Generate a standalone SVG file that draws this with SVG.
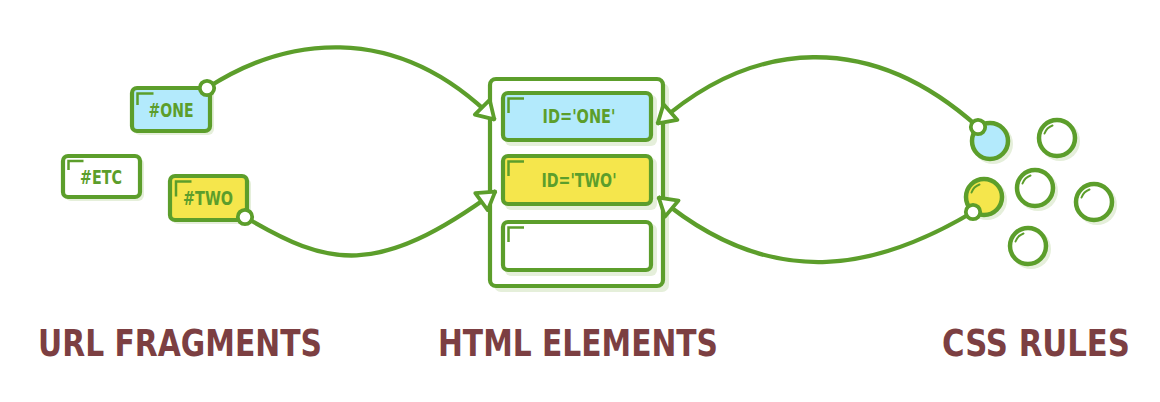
<svg xmlns="http://www.w3.org/2000/svg" width="1160" height="402" viewBox="0 0 1160 402">
<style>
.box{stroke:#5c9e2b;stroke-width:4.2;}
.sh{fill:#e5efda;}
.mark{fill:none;stroke:#5c9e2b;stroke-width:2.5;}
.lbl{font-family:"DejaVu Sans Condensed","Liberation Sans Narrow","DejaVu Sans",sans-serif;font-weight:bold;font-size:19px;fill:#5c9e2b;text-anchor:middle;}
.head{font-family:"DejaVu Sans Condensed","Liberation Sans Narrow","DejaVu Sans",sans-serif;font-weight:bold;font-size:37px;fill:#7c3f42;}
.conn{fill:none;stroke:#5c9e2b;stroke-width:4.3;}
.dot{fill:#ffffff;stroke:#5c9e2b;stroke-width:3.8;}
.bub{stroke:#5c9e2b;stroke-width:4.5;}
.hl{fill:none;stroke:#5c9e2b;stroke-width:2;stroke-linecap:round;}
</style>
<defs>
<marker id="arr" viewBox="-24 -16 28 32" markerWidth="28" markerHeight="32" refX="0" refY="0" orient="auto" markerUnits="userSpaceOnUse">
<path d="M-1,0 L-18,-10.5 L-18,10.5 Z" fill="#ffffff" stroke="#5c9e2b" stroke-width="3.8" stroke-linejoin="round"/>
</marker>
</defs>
<rect width="1160" height="402" fill="#ffffff"/>

<g id="frag-one">
<rect class="sh" x="134" y="90" width="80" height="45" rx="6"/>
<rect class="box" x="132" y="88" width="78" height="43" rx="5" fill="#b3eafc"/>
<path class="mark" d="M137.5,105 V93.5 H153.5"/>
<text class="lbl" x="171" y="117" textLength="45" lengthAdjust="spacingAndGlyphs">#ONE</text>
</g>
<g id="frag-etc">
<rect class="sh" x="65" y="158" width="79" height="43" rx="6"/>
<rect class="box" x="63" y="156" width="77" height="41" rx="5" fill="#ffffff"/>
<path class="mark" d="M68.5,170 V161 H83.5"/>
<text class="lbl" x="101" y="184" textLength="42" lengthAdjust="spacingAndGlyphs">#ETC</text>
</g>
<g id="frag-two">
<rect class="sh" x="172" y="178" width="79" height="46" rx="6"/>
<rect class="box" x="170" y="176" width="77" height="44" rx="5" fill="#f5e64c"/>
<path class="mark" d="M176,196.5 V181.5 H191.5"/>
<text class="lbl" x="208" y="205" textLength="50" lengthAdjust="spacingAndGlyphs">#TWO</text>
</g>

<g id="html">
<rect class="sh" x="494" y="83" width="175" height="209" rx="7"/>
<rect class="box" x="490" y="79" width="173" height="207" rx="6" fill="#ffffff"/>
</g>
<g id="el-one">
<rect class="sh" x="505" y="95" width="152" height="51" rx="6"/>
<rect class="box" x="503" y="93" width="148" height="47" rx="5" fill="#b3eafc"/>
<path class="mark" d="M508.5,113 V98.5 H524"/>
<text class="lbl" x="579" y="123" textLength="73" lengthAdjust="spacingAndGlyphs">ID='ONE'</text>
</g>
<g id="el-two">
<rect class="sh" x="505" y="158" width="152" height="52" rx="6"/>
<rect class="box" x="503" y="156" width="148" height="48" rx="5" fill="#f5e64c"/>
<path class="mark" d="M508.5,176 V161.5 H524"/>
<text class="lbl" x="579" y="187" textLength="75" lengthAdjust="spacingAndGlyphs">ID='TWO'</text>
</g>
<g id="el-empty">
<rect class="sh" x="505" y="224" width="152" height="52" rx="6"/>
<rect class="box" x="503" y="222" width="148" height="48" rx="5" fill="#ffffff"/>
<path class="mark" d="M508.5,242 V227.5 H524"/>
</g>

<g id="css-rules">
<circle class="sh" cx="993" cy="144" r="20"/>
<circle class="bub" cx="990" cy="141" r="18" fill="#b3eafc"/>
<circle class="sh" cx="987" cy="200" r="20"/>
<circle class="bub" cx="984" cy="197" r="18" fill="#f5e64c"/>
<path class="hl" d="M971.5,192.5 A13.3,13.3 0 0 1 979.5,184.5"/>
<circle class="sh" cx="1060" cy="141" r="20"/>
<circle class="bub" cx="1057" cy="138" r="18" fill="#ffffff"/>
<path class="hl" d="M1044.5,133.5 A13.3,13.3 0 0 1 1052.5,125.5"/>
<circle class="sh" cx="1038" cy="191" r="20"/>
<circle class="bub" cx="1035" cy="188" r="18" fill="#ffffff"/>
<path class="hl" d="M1022.5,183.5 A13.3,13.3 0 0 1 1030.5,175.5"/>
<circle class="sh" cx="1097" cy="205" r="20"/>
<circle class="bub" cx="1094" cy="202" r="18" fill="#ffffff"/>
<path class="hl" d="M1081.5,197.5 A13.3,13.3 0 0 1 1089.5,189.5"/>
<circle class="sh" cx="1031" cy="249" r="20"/>
<circle class="bub" cx="1028" cy="246" r="18" fill="#ffffff"/>
<path class="hl" d="M1015.5,241.5 A13.3,13.3 0 0 1 1023.5,233.5"/>
</g>

<g id="connectors">
<path class="conn" d="M207,88 C281,40 392,17 495,120" marker-end="url(#arr)"/>
<path class="conn" d="M245,217 C328,266 376,279 496,191" marker-end="url(#arr)"/>
<path class="conn" d="M978,127 C870,30 753,39 657,124" marker-end="url(#arr)"/>
<path class="conn" d="M973,212 C884,265 777,297 658,197" marker-end="url(#arr)"/>
<circle class="dot" cx="207" cy="88" r="7.2"/>
<circle class="dot" cx="245" cy="217" r="7.2"/>
<circle class="dot" cx="978" cy="127" r="7.2"/>
<circle class="dot" cx="973" cy="212" r="7.2"/>
</g>

<g id="headings">
<text class="head" x="38" y="356" textLength="284" lengthAdjust="spacingAndGlyphs">URL FRAGMENTS</text>
<text class="head" x="438" y="356" textLength="280" lengthAdjust="spacingAndGlyphs">HTML ELEMENTS</text>
<text class="head" x="942" y="356" textLength="188" lengthAdjust="spacingAndGlyphs">CSS RULES</text>
</g>
</svg>
